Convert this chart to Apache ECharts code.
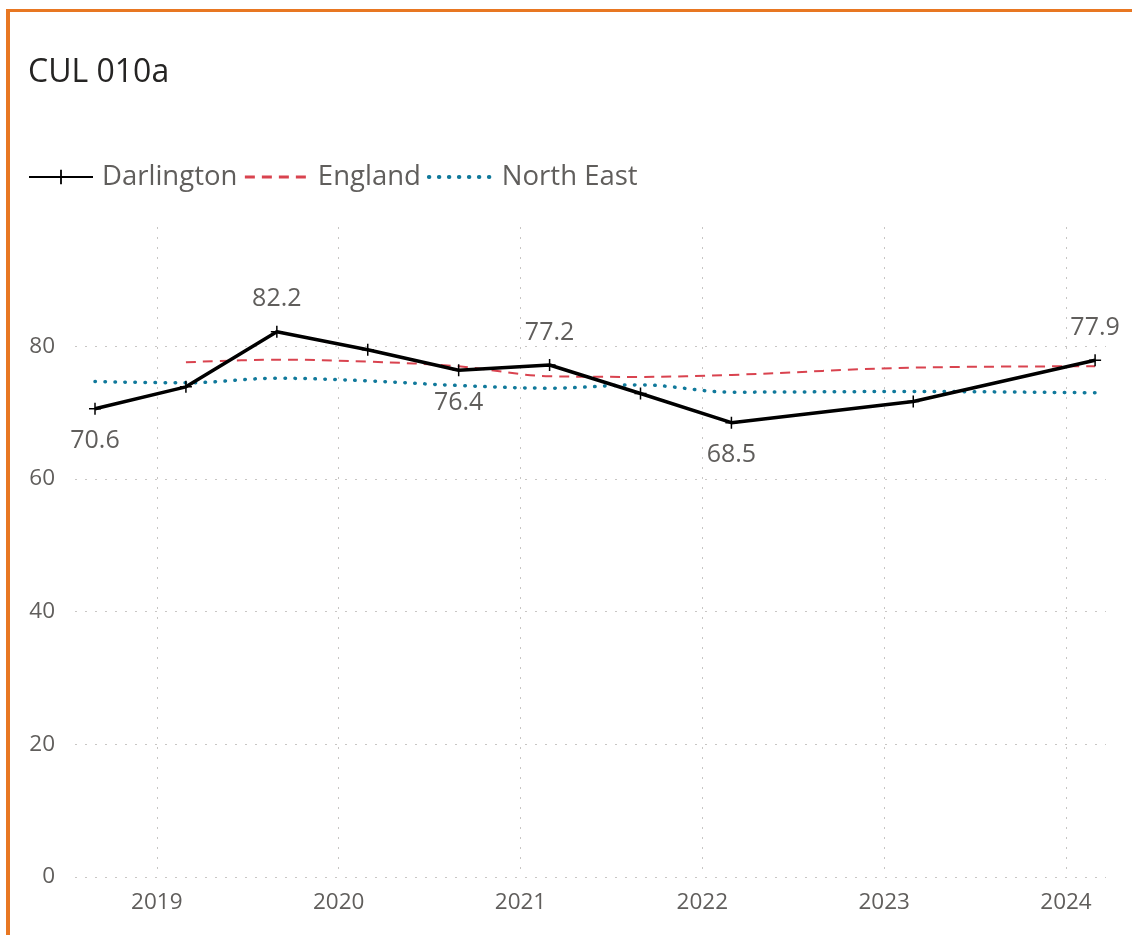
<!DOCTYPE html>
<html>
<head>
<meta charset="utf-8">
<script src="https://cdn.jsdelivr.net/npm/echarts@6/dist/echarts.min.js"></script>
<style>
html, body { margin: 0; padding: 0; background: #fff; }
#frame { position: absolute; left: 6px; top: 9px; right: 0; bottom: 0; border-left: 4px solid #E87722; border-top: 3px solid #E87722; }
#myChart1 { position: absolute; left: 0; top: 0; width: 1132px; height: 935px; }
</style>
</head>
<body>
<div id="frame"></div>
<div id="myChart1"></div>
<script>
// half-yearly survey points, as decimal years
var periods = [2018.66, 2019.16, 2019.66, 2020.16, 2020.66, 2021.16, 2021.66, 2022.16, 2023.16, 2024.16];
var darlington = [70.6, 73.9, 82.2, 79.5, 76.4, 77.2, 72.9, 68.5, 71.7, 77.9];
var england = [null, 77.6, 78.0, 77.7, 77.0, 75.5, 75.4, 75.7, 76.8, 77.0];
var northEast = [74.7, 74.5, 75.2, 74.8, 74.1, 73.7, 74.2, 73.1, 73.2, 73.0];
var yearTicks = [2019, 2020, 2021, 2022, 2023, 2024];
var valueTicks = [0, 20, 40, 60, 80];

// which Darlington points carry a value label, and on which side
var labelSide = { 0: 'bottom', 2: 'top', 4: 'bottom', 5: 'top', 7: 'bottom', 9: 'top' };

var font = '"Open Sans", "Noto Sans", sans-serif';
var grey = '#605E5C';
var gridLine = { color: '#C8C6C4', width: 1, type: [2, 8] };
var plus = 'path://M5.25,0h1.5v5.25h5.25v1.5h-5.25v5.25h-1.5v-5.25h-5.25v-1.5h5.25z';

function pairs(values) {
    return periods.map(function (p, i) { return [p, values[i]]; })
        .filter(function (d) { return d[1] != null; });
}

var darlingtonData = pairs(darlington).map(function (d, i) {
    var item = { value: d };
    if (labelSide[i]) {
        item.label = { show: true, position: labelSide[i], distance: 14 };
    }
    return item;
});

var myChart = echarts.init(document.getElementById('myChart1'));
var option = {
    animation: false,
    textStyle: { fontFamily: font },
    title: {
        text: 'CUL 010a',
        left: 23,
        top: 52,
        textStyle: { fontFamily: font, fontSize: 32, fontWeight: 'normal', color: '#252423' }
    },
    legend: {
        left: 23,
        top: 158,
        itemWidth: 64,
        itemHeight: 18,
        itemGap: 6,
        textStyle: { fontFamily: font, fontSize: 27.5, color: grey, padding: [0, 0, 0, 4] },
        data: [
            { name: 'Darlington' },
            { name: 'England', itemStyle: { opacity: 0 }, lineStyle: { width: 3 } },
            { name: 'North East', itemStyle: { opacity: 0 }, lineStyle: { width: 4 } }
        ]
    },
    grid: { left: 75, right: 26, top: 227, bottom: 58, containLabel: false },
    xAxis: {
        type: 'value',
        min: 2018.55,
        max: 2024.22,
        minInterval: 1,
        maxInterval: 1,
        axisLine: { show: false },
        axisTick: { show: false },
        splitLine: { show: true, showMinLine: false, showMaxLine: false, lineStyle: gridLine },
        axisLabel: {
            margin: 14,
            fontFamily: font,
            fontSize: 22.5,
            color: grey,
            showMinLabel: false,
            showMaxLabel: false,
            formatter: function (v) { return yearTicks.indexOf(v) >= 0 ? String(v) : ''; }
        }
    },
    yAxis: {
        type: 'value',
        min: 0,
        max: 98,
        minInterval: 20,
        maxInterval: 20,
        axisLine: { show: false },
        axisTick: { show: false },
        splitLine: { show: true, showMaxLine: false, lineStyle: gridLine },
        axisLabel: {
            margin: 20,
            fontFamily: font,
            fontSize: 22.5,
            color: grey,
            showMaxLabel: false,
            formatter: function (v) { return valueTicks.indexOf(v) >= 0 ? String(v) : ''; }
        }
    },
    series: [
        {
            name: 'Darlington',
            type: 'line',
            data: darlingtonData,
            symbol: plus,
            symbolSize: 12,
            itemStyle: { color: '#000' },
            lineStyle: { color: '#000', width: 3.5 },
            label: { fontFamily: font, fontSize: 25, color: grey },
            z: 5
        },
        {
            name: 'England',
            type: 'line',
            data: pairs(england),
            smooth: 0.35,
            showSymbol: false,
            symbol: 'none',
            itemStyle: { color: '#D9434F' },
            lineStyle: { color: '#D9434F', width: 2, type: [10, 7] },
            z: 3
        },
        {
            name: 'North East',
            type: 'line',
            data: pairs(northEast),
            smooth: 0.35,
            showSymbol: false,
            symbol: 'none',
            itemStyle: { color: '#10799B' },
            lineStyle: { color: '#10799B', width: 3.5, type: [0.5, 9.5], cap: 'round' },
            z: 4
        }
    ]
};
myChart.setOption(option);
</script>
</body>
</html>
